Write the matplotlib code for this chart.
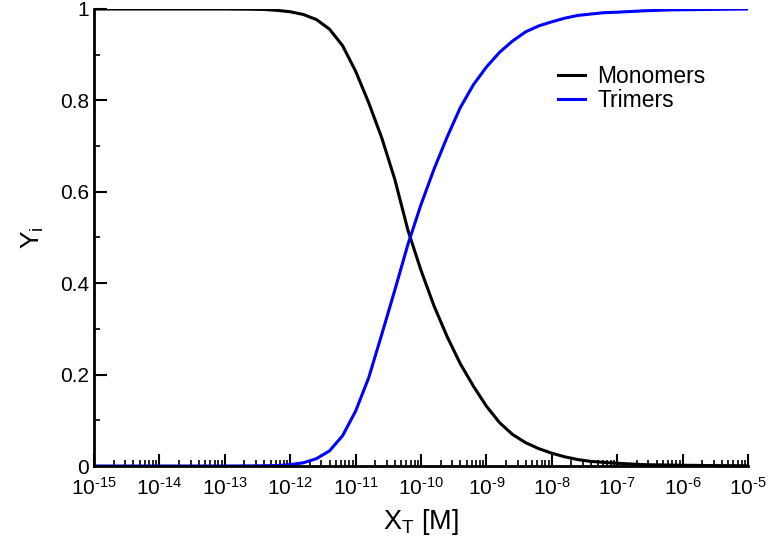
import numpy as np
import matplotlib
matplotlib.use("Agg")
import matplotlib.pyplot as plt
from matplotlib.ticker import LogLocator, MultipleLocator, FixedLocator, FuncFormatter

plt.rcParams['font.family'] = ['Liberation Sans', 'DejaVu Sans']
plt.rcParams['mathtext.fontset'] = 'custom'
plt.rcParams['mathtext.rm'] = 'Liberation Sans'
plt.rcParams['mathtext.it'] = 'Liberation Sans'

# values (log10 of total concentration, fraction)
mono_logx = [-15, -14, -13, -12.6, -12.4, -12.2, -12.0, -11.8, -11.6, -11.4,
             -11.2, -11.0, -10.8, -10.6, -10.4, -10.2, -10.0, -9.8, -9.6,
             -9.4, -9.2, -9.0, -8.8, -8.6, -8.4, -8.2, -8.0, -7.8, -7.6,
             -7.4, -7.2, -7.0, -6.6, -6.2, -5.6, -5.0]
mono_y = [1.0, 1.0, 1.0, 0.9995, 0.999, 0.997, 0.994, 0.988, 0.977, 0.956,
          0.920, 0.864, 0.795, 0.718, 0.627, 0.516, 0.428, 0.350, 0.283,
          0.224, 0.175, 0.131, 0.095, 0.069, 0.051, 0.038, 0.028, 0.020, 0.014,
          0.010, 0.008, 0.006, 0.003, 0.002, 0.001, 0.0005]

tri_logx = [-15, -14, -13, -12.6, -12.4, -12.2, -12.0, -11.8, -11.6, -11.4,
            -11.2, -11.0, -10.8, -10.6, -10.4, -10.2, -10.0, -9.8, -9.6,
            -9.4, -9.2, -9.0, -8.8, -8.6, -8.4, -8.2, -8.0, -7.8, -7.6,
            -7.4, -7.2, -7.0, -6.6, -6.2, -5.6, -5.0]
tri_y = [0.0, 0.0, 0.0, 0.0003, 0.0006, 0.001, 0.003, 0.007, 0.016, 0.033,
         0.066, 0.120, 0.193, 0.288, 0.385, 0.485, 0.572, 0.650, 0.720,
         0.784, 0.834, 0.873, 0.905, 0.930, 0.950, 0.963, 0.972, 0.980, 0.986,
         0.989, 0.992, 0.993, 0.996, 0.998, 0.999, 1.0]

fig = plt.figure(figsize=(7.68, 5.52), dpi=100)
ax = fig.add_axes([94/768, 86/552, 654/768, 457/552])

ax.plot(10.0**np.array(mono_logx), mono_y, color='black', lw=2.2, label='Monomers')
ax.plot(10.0**np.array(tri_logx), tri_y, color='#0000ff', lw=2.2, label='Trimers')

ax.set_xscale('log')
ax.set_xlim(1e-15, 1e-5)
ax.set_ylim(0, 1)

ax.xaxis.set_major_locator(FixedLocator([10.0**k for k in range(-15, -4)]))
ax.xaxis.set_minor_locator(LogLocator(base=10, subs=np.arange(2, 10), numticks=100))
ax.xaxis.set_major_formatter(FuncFormatter(
    lambda v, p: r'$10^{\text{-%d}}$' % abs(int(round(np.log10(v))))))
ax.yaxis.set_major_locator(MultipleLocator(0.2))
ax.yaxis.set_minor_locator(MultipleLocator(0.1))
ax.yaxis.set_major_formatter(FuncFormatter(lambda v, p: '%g' % round(v, 1)))

for s in ['top', 'right']:
    ax.spines[s].set_visible(False)
for s in ['left', 'bottom']:
    ax.spines[s].set_linewidth(2)

ax.tick_params(axis='x', which='major', pad=8)
ax.tick_params(which='major', direction='in', length=9, width=1.5,
               labelsize=15, top=False, right=False)
ax.tick_params(which='minor', direction='in', length=4.5, width=1.2,
               top=False, right=False)

ax.set_xlabel(r'X$_{\rm T}$ [M]', fontsize=19.5, labelpad=6)
ax.set_ylabel(r'Y$_{\rm i}$', fontsize=19, labelpad=10)

ax.legend(loc='upper left', bbox_to_anchor=(0.71, 0.877), frameon=False,
          fontsize=16.5, handlelength=1.15, handletextpad=0.55,
          labelspacing=0.05, borderpad=0, borderaxespad=0)

fig.savefig('out.png', dpi=100)
